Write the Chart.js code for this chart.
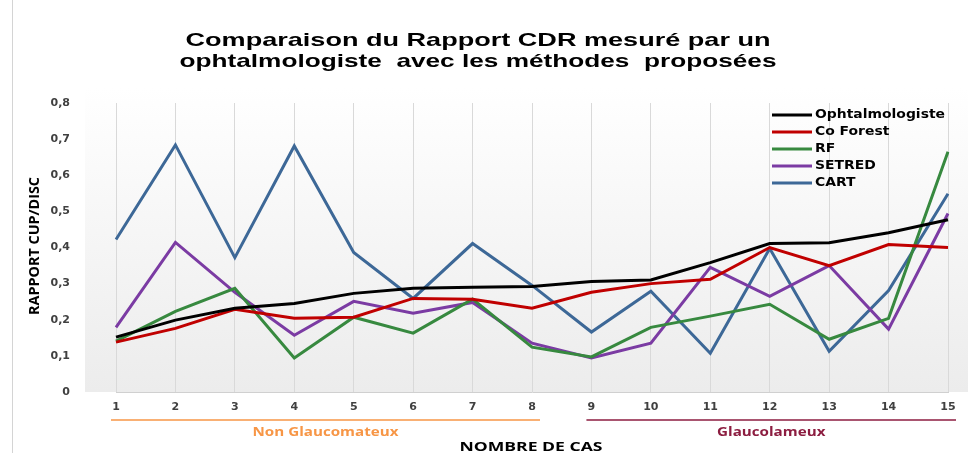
<!DOCTYPE html>
<html>
<head>
<meta charset="utf-8">
<script src="https://cdn.jsdelivr.net/npm/chart.js@4/dist/chart.umd.min.js"></script>
<style>
  html, body { margin: 0; padding: 0; background: #fff; }
  #wrap { width: 968px; height: 453px; }
</style>
</head>
<body>
<div id="wrap"><canvas id="cdr" width="968" height="453"></canvas></div>
<script>
// cases 1..15
const cas = ['1','2','3','4','5','6','7','8','9','10','11','12','13','14','15'];

const ophtalmologiste = [0.152, 0.199, 0.232, 0.245, 0.273, 0.287, 0.290, 0.292, 0.306, 0.310, 0.358, 0.411, 0.413, 0.441, 0.477];
const coForest        = [0.138, 0.176, 0.229, 0.204, 0.207, 0.259, 0.257, 0.232, 0.276, 0.300, 0.312, 0.400, 0.350, 0.408, 0.400];
const rf              = [0.141, 0.223, 0.287, 0.094, 0.207, 0.163, 0.257, 0.124, 0.097, 0.179, 0.210, 0.243, 0.146, 0.204, 0.665];
const setred          = [0.179, 0.414, 0.276, 0.157, 0.251, 0.218, 0.248, 0.135, 0.094, 0.135, 0.345, 0.265, 0.350, 0.174, 0.494];
const cart            = [0.422, 0.684, 0.372, 0.681, 0.386, 0.259, 0.411, 0.295, 0.166, 0.279, 0.107, 0.397, 0.113, 0.281, 0.549];

const titleLines = ['Comparaison du Rapport CDR mesuré par un', 'ophtalmologiste  avec les méthodes  proposées'];
const groups = [
  { label: 'Non Glaucomateux', from: 0, to: 7, color: '#f79646' },
  { label: 'Glaucolameux', from: 8, to: 14, color: '#8c1d40' }
];

function serie(label, data, color) {
  return { label: label, data: data, borderColor: color, backgroundColor: color,
           borderWidth: 3, pointRadius: 0, tension: 0, fill: false };
}

// text stretched horizontally (the original fonts are wide)
function wideText(ctx, text, x, y, sx) {
  ctx.save();
  ctx.translate(x, y);
  ctx.scale(sx, 1);
  ctx.fillText(text, 0, 0);
  ctx.restore();
}

const decor = {
  id: 'decor',
  beforeDraw(chart) {
    const { ctx, chartArea: { left, right, top, bottom } } = chart;
    ctx.save();
    const g = ctx.createLinearGradient(0, top - 15, 0, bottom);
    g.addColorStop(0, '#ffffff');
    g.addColorStop(1, '#ececec');
    ctx.fillStyle = g;
    ctx.fillRect(left - 31, top - 15, chart.width - (left - 31), bottom - top + 15);
    ctx.strokeStyle = '#d4d4d4';
    ctx.lineWidth = 1;
    ctx.beginPath();
    ctx.moveTo(12.5, 0);
    ctx.lineTo(12.5, chart.height);
    ctx.stroke();
    ctx.restore();
  },
  afterDraw(chart) {
    const { ctx } = chart;
    const x = chart.scales.x;
    ctx.save();

    // title
    ctx.fillStyle = '#000';
    ctx.textAlign = 'center';
    ctx.textBaseline = 'alphabetic';
    ctx.font = 'bold 19px "Liberation Sans", Arial, sans-serif';
    wideText(ctx, titleLines[0], 478, 46, 585 / ctx.measureText(titleLines[0]).width);
    wideText(ctx, titleLines[1], 478, 67, 597 / ctx.measureText(titleLines[1]).width);

    // y title
    ctx.textBaseline = 'middle';
    ctx.save();
    ctx.translate(35, 246);
    ctx.rotate(-Math.PI / 2);
    ctx.font = 'bold 14px "Open Sans", sans-serif';
    wideText(ctx, 'RAPPORT CUP/DISC', 0, 0, 138 / ctx.measureText('RAPPORT CUP/DISC').width);
    ctx.restore();

    // group brackets
    ctx.font = 'bold 12px "Open Sans", sans-serif';
    const gs = 146 / ctx.measureText(groups[0].label).width;
    groups.forEach(gr => {
      const x0 = x.getPixelForValue(gr.from) - 5;
      const x1 = x.getPixelForValue(gr.to) + 8;
      ctx.strokeStyle = gr.color;
      ctx.lineWidth = 1.5;
      ctx.beginPath();
      ctx.moveTo(x0, 420);
      ctx.lineTo(x1, 420);
      ctx.stroke();
      ctx.fillStyle = gr.color;
      wideText(ctx, gr.label, (x0 + x1) / 2, 433, gs);
    });

    ctx.fillStyle = '#000';
    ctx.font = 'bold 13px "Open Sans", sans-serif';
    wideText(ctx, 'NOMBRE DE CAS', 531, 447, 143 / ctx.measureText('NOMBRE DE CAS').width);

    // legend
    ctx.textAlign = 'left';
    ctx.font = 'bold 12px "DejaVu Sans", sans-serif';
    const ls = 130 / ctx.measureText('Ophtalmologiste').width;
    const rows = [115, 132, 149, 166, 183];
    chart.data.datasets.forEach((ds, i) => {
      const yy = rows[i];
      ctx.strokeStyle = ds.borderColor;
      ctx.lineWidth = 3;
      ctx.beginPath();
      ctx.moveTo(772, yy);
      ctx.lineTo(812, yy);
      ctx.stroke();
      ctx.fillStyle = '#000';
      wideText(ctx, ds.label, 815, yy, ls);
    });
    ctx.restore();
  }
};

new Chart(document.getElementById('cdr'), {
  type: 'line',
  data: {
    labels: cas,
    datasets: [
      serie('Ophtalmologiste', ophtalmologiste, '#000000'),
      serie('Co Forest', coForest, '#c00000'),
      serie('RF', rf, '#37893f'),
      serie('SETRED', setred, '#7b3ba3'),
      serie('CART', cart, '#3d6897')
    ]
  },
  options: {
    responsive: false,
    animation: false,
    layout: { padding: { top: 103, right: 20, left: 0, bottom: 0 } },
    plugins: {
      legend: { display: false },
      title: { display: false },
      tooltip: { enabled: false }
    },
    scales: {
      x: {
        offset: false,
        grid: { color: '#d9d9d9', drawTicks: false },
        border: { color: '#d0d0d0' },
        ticks: { padding: 9, color: '#404040', font: { family: 'DejaVu Sans', weight: 'bold', size: 11 } },
        afterFit: (s) => { s.height = 61; }
      },
      y: {
        min: 0,
        max: 0.8,
        grid: { display: false, drawTicks: false },
        border: { display: false },
        ticks: {
          stepSize: 0.1,
          padding: 46,
          color: '#404040',
          font: { family: 'DejaVu Sans', weight: 'bold', size: 11 },
          callback: (v) => v === 0 ? '0' : v.toFixed(1).replace('.', ',')
        },
        afterFit: (s) => { s.width = 116; }
      }
    }
  },
  plugins: [decor]
});
</script>
</body>
</html>
